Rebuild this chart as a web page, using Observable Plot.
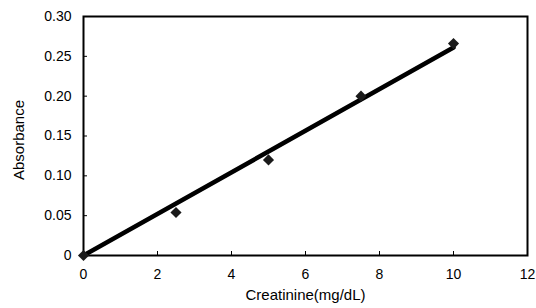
<!DOCTYPE html>
<html>
<head>
<meta charset="utf-8">
<script src="https://cdn.jsdelivr.net/npm/d3@7"></script>
<script src="https://cdn.jsdelivr.net/npm/@observablehq/plot@0.6"></script>
<style>
  html, body { margin: 0; padding: 0; background: #fff; }
  #chart svg { display: block; }
</style>
</head>
<body>
<div id="chart"></div>
<script>
const concentrations = [0, 2.5, 5, 7.5, 10];
const absorbances = [0, 0.054, 0.120, 0.200, 0.266];
const trendX = [0, 10];
const trendY = [0, 0.261];
const xTicks = [0, 2, 4, 6, 8, 10, 12];
const yTicks = [0, 0.05, 0.10, 0.15, 0.20, 0.25, 0.30];
const xLabel = "Creatinine(mg/dL)";
const yLabel = "Absorbance";

const points = concentrations.map((x, i) => ({x, y: absorbances[i]}));
const trend = trendX.map((x, i) => ({x, y: trendY[i]}));

const W = 536, H = 308;
const mL = 83, mR = 9, mT = 16, mB = 53;
const fw = W - mL - mR, fh = H - mT - mB;

const chart = Plot.plot({
  width: W,
  height: H,
  marginLeft: mL,
  marginRight: mR,
  marginTop: mT,
  marginBottom: mB,
  style: {fontFamily: "'Liberation Sans', Arial, sans-serif", fontSize: "14px", color: "#000", background: "#fff"},
  x: {domain: [0, 12]},
  y: {domain: [0, 0.30]},
  marks: [
    Plot.axisX({ticks: xTicks, tickSize: 0, tickPadding: 14, tickFormat: d => String(d), label: null, fontSize: 14}),
    Plot.axisY({ticks: yTicks, tickSize: 0, tickPadding: 12, tickFormat: d => d === 0 ? "0" : d.toFixed(2), label: null, fontSize: 14}),
    Plot.tickY(yTicks.slice(1, -1), {y: d => d, stroke: "#000", strokeWidth: 1, insetRight: fw - 4}),
    Plot.tickX(xTicks.slice(1, -1), {x: d => d, stroke: "#000", strokeWidth: 1, insetTop: fh - 4}),
    Plot.frame({stroke: "#000", strokeWidth: 2}),
    Plot.line(trend, {x: "x", y: "y", stroke: "#000", strokeWidth: 4.5}),
    Plot.dot(points, {x: "x", y: "y", symbol: "diamond2", r: 5, fill: "#1a1a1a", stroke: "none"}),
    Plot.text([xLabel], {frameAnchor: "bottom", dy: 44, text: d => d, fontSize: 15, fill: "#000"}),
    Plot.text([yLabel], {frameAnchor: "left", textAnchor: "middle", dx: -64, dy: 4, rotate: -90, text: d => d, fontSize: 15, fill: "#000"})
  ]
});
document.getElementById("chart").appendChild(chart);
</script>
</body>
</html>
